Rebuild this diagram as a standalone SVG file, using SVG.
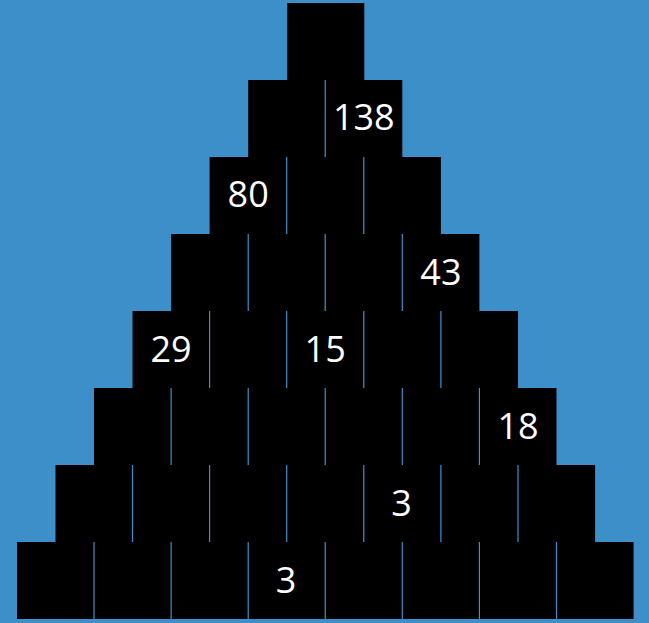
<svg xmlns="http://www.w3.org/2000/svg" width="649" height="623" viewBox="0 0 649 623">
<style>
.c{fill:#000}
.d{stroke:#3d8fc9;stroke-width:1.2}
.t{fill:#fff;font-family:"Open Sans","Noto Sans",sans-serif;font-size:36px;text-anchor:middle}
</style>
<rect x="0" y="0" width="649" height="623" fill="#3d8fc9"/>
<g id="r0c0"><rect class="c" x="287.2" y="3" width="77.1" height="77"/></g>
<g id="r1c0"><rect class="c" x="248.2" y="80" width="77.1" height="77"/></g>
<g id="r1c1"><rect class="c" x="325.2" y="80" width="77.1" height="77"/><text class="t" x="363.8" y="130">138</text></g>
<g id="r2c0"><rect class="c" x="209.6" y="157" width="77.1" height="77"/><text class="t" x="248.2" y="207">80</text></g>
<g id="r2c1"><rect class="c" x="286.7" y="157" width="77.1" height="77"/></g>
<g id="r2c2"><rect class="c" x="363.8" y="157" width="77.1" height="77"/></g>
<g id="r3c0"><rect class="c" x="171.1" y="234" width="77.1" height="77"/></g>
<g id="r3c1"><rect class="c" x="248.2" y="234" width="77.1" height="77"/></g>
<g id="r3c2"><rect class="c" x="325.2" y="234" width="77.1" height="77"/></g>
<g id="r3c3"><rect class="c" x="402.3" y="234" width="77.1" height="77"/><text class="t" x="440.9" y="285">43</text></g>
<g id="r4c0"><rect class="c" x="132.5" y="311" width="77.1" height="77"/><text class="t" x="171" y="362">29</text></g>
<g id="r4c1"><rect class="c" x="209.6" y="311" width="77.1" height="77"/></g>
<g id="r4c2"><rect class="c" x="286.7" y="311" width="77.1" height="77"/><text class="t" x="325.2" y="362">15</text></g>
<g id="r4c3"><rect class="c" x="363.8" y="311" width="77.1" height="77"/></g>
<g id="r4c4"><rect class="c" x="440.9" y="311" width="77.1" height="77"/></g>
<g id="r5c0"><rect class="c" x="94" y="388" width="77.1" height="77"/></g>
<g id="r5c1"><rect class="c" x="171.1" y="388" width="77.1" height="77"/></g>
<g id="r5c2"><rect class="c" x="248.2" y="388" width="77.1" height="77"/></g>
<g id="r5c3"><rect class="c" x="325.2" y="388" width="77.1" height="77"/></g>
<g id="r5c4"><rect class="c" x="402.3" y="388" width="77.1" height="77"/></g>
<g id="r5c5"><rect class="c" x="479.4" y="388" width="77.1" height="77"/><text class="t" x="518" y="439">18</text></g>
<g id="r6c0"><rect class="c" x="55.5" y="465" width="77.1" height="77"/></g>
<g id="r6c1"><rect class="c" x="132.5" y="465" width="77.1" height="77"/></g>
<g id="r6c2"><rect class="c" x="209.6" y="465" width="77.1" height="77"/></g>
<g id="r6c3"><rect class="c" x="286.7" y="465" width="77.1" height="77"/></g>
<g id="r6c4"><rect class="c" x="363.8" y="465" width="77.1" height="77"/><text class="t" x="401.5" y="516">3</text></g>
<g id="r6c5"><rect class="c" x="440.9" y="465" width="77.1" height="77"/></g>
<g id="r6c6"><rect class="c" x="518" y="465" width="77.1" height="77"/></g>
<g id="r7c0"><rect class="c" x="17" y="542" width="77.1" height="77"/></g>
<g id="r7c1"><rect class="c" x="94" y="542" width="77.1" height="77"/></g>
<g id="r7c2"><rect class="c" x="171.1" y="542" width="77.1" height="77"/></g>
<g id="r7c3"><rect class="c" x="248.2" y="542" width="77.1" height="77"/><text class="t" x="286" y="593">3</text></g>
<g id="r7c4"><rect class="c" x="325.2" y="542" width="77.1" height="77"/></g>
<g id="r7c5"><rect class="c" x="402.3" y="542" width="77.1" height="77"/></g>
<g id="r7c6"><rect class="c" x="479.4" y="542" width="77.1" height="77"/></g>
<g id="r7c7"><rect class="c" x="556.5" y="542" width="77.1" height="77"/></g>
<g id="dividers" class="d">
<line x1="325.2" y1="80" x2="325.2" y2="157"/>
<line x1="286.7" y1="157" x2="286.7" y2="234"/><line x1="363.8" y1="157" x2="363.8" y2="234"/>
<line x1="248.2" y1="234" x2="248.2" y2="311"/><line x1="325.2" y1="234" x2="325.2" y2="311"/><line x1="402.3" y1="234" x2="402.3" y2="311"/>
<line x1="209.6" y1="311" x2="209.6" y2="388"/><line x1="286.7" y1="311" x2="286.7" y2="388"/><line x1="363.8" y1="311" x2="363.8" y2="388"/><line x1="440.9" y1="311" x2="440.9" y2="388"/>
<line x1="171.1" y1="388" x2="171.1" y2="465"/><line x1="248.2" y1="388" x2="248.2" y2="465"/><line x1="325.2" y1="388" x2="325.2" y2="465"/><line x1="402.3" y1="388" x2="402.3" y2="465"/><line x1="479.4" y1="388" x2="479.4" y2="465"/>
<line x1="132.5" y1="465" x2="132.5" y2="542"/><line x1="209.6" y1="465" x2="209.6" y2="542"/><line x1="286.7" y1="465" x2="286.7" y2="542"/><line x1="363.8" y1="465" x2="363.8" y2="542"/><line x1="440.9" y1="465" x2="440.9" y2="542"/><line x1="518" y1="465" x2="518" y2="542"/>
<line x1="94" y1="542" x2="94" y2="619"/><line x1="171.1" y1="542" x2="171.1" y2="619"/><line x1="248.2" y1="542" x2="248.2" y2="619"/><line x1="325.2" y1="542" x2="325.2" y2="619"/><line x1="402.3" y1="542" x2="402.3" y2="619"/><line x1="479.4" y1="542" x2="479.4" y2="619"/><line x1="556.5" y1="542" x2="556.5" y2="619"/>
</g>
</svg>
